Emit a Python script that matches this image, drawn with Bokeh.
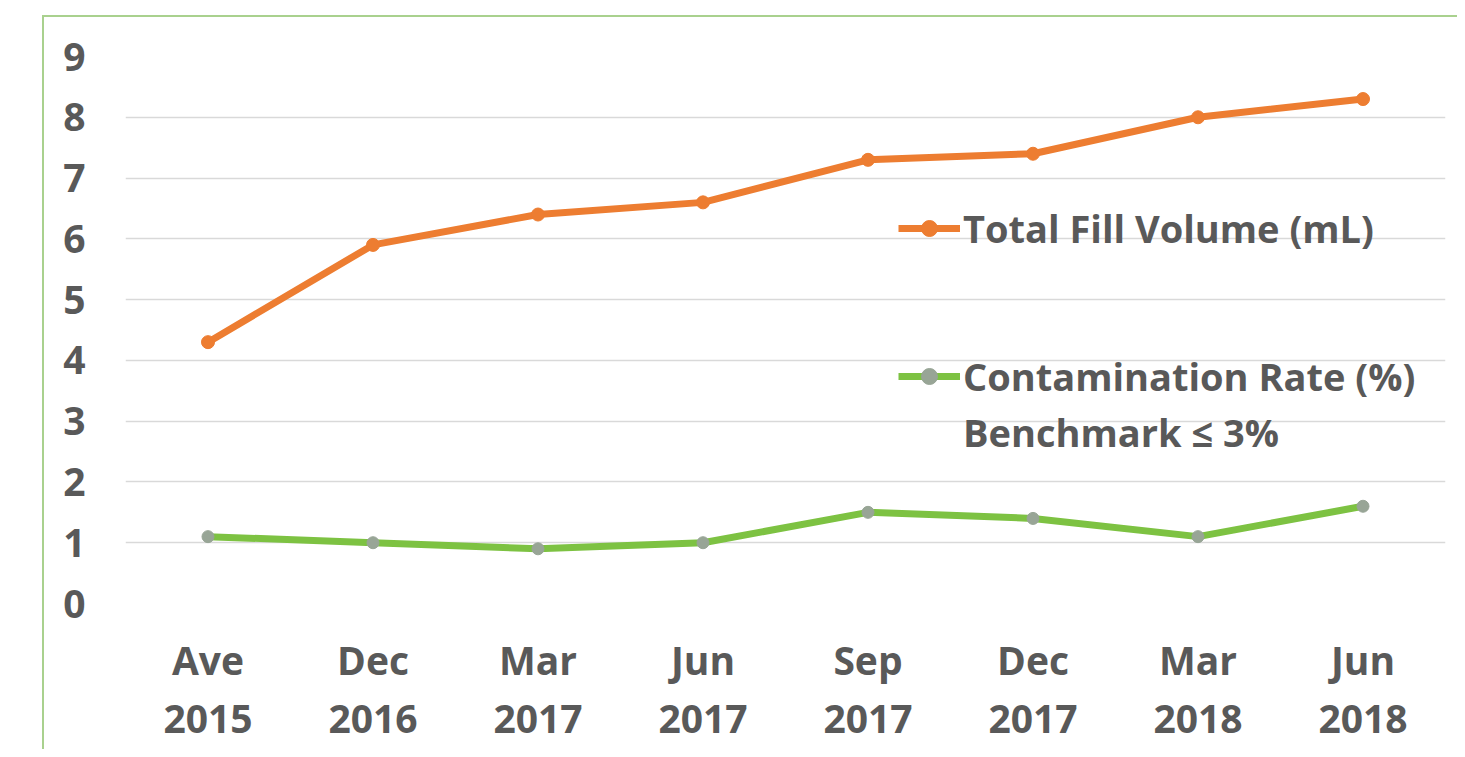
from bokeh.plotting import figure
from bokeh.models import Range1d, FixedTicker, Legend, LegendItem, ColumnDataSource
from bokeh.layouts import column
from bokeh.embed import file_html
from bokeh.resources import INLINE

categories = ["Ave\n2015", "Dec\n2016", "Mar\n2017", "Jun\n2017", "Sep\n2017", "Dec\n2017", "Mar\n2018", "Jun\n2018"]
fill_volume = [4.3, 5.9, 6.4, 6.6, 7.3, 7.4, 8.0, 8.3]
contamination = [1.1, 1.0, 0.9, 1.0, 1.5, 1.4, 1.1, 1.6]
y_ticks = [0, 1, 2, 3, 4, 5, 6, 7, 8, 9]

FONT = "Open Sans"
TXT = "#595959"
ORANGE = "#ED7D31"
GREEN = "#7DC242"
GREEN_MK = "#98A596"

p = figure(x_range=categories, y_range=Range1d(0, 9), width=1413, height=732,
           output_backend="svg", toolbar_location=None,
           min_border_left=81, min_border_right=12, min_border_top=39, min_border_bottom=146)
p.outline_line_color = None
p.background_fill_color = "white"
p.border_fill_color = "white"

p.xgrid.grid_line_color = None
p.ygrid.grid_line_color = "#D9D9D9"
p.ygrid.grid_line_width = 1.5
p.yaxis.ticker = FixedTicker(ticks=y_ticks)

for ax in (p.xaxis[0], p.yaxis[0]):
    ax.axis_line_color = None
    ax.major_tick_line_color = None
    ax.minor_tick_line_color = None
    ax.major_tick_out = 0
    ax.major_tick_in = 0
    ax.major_label_text_font = FONT
    ax.major_label_text_font_style = "bold"
    ax.major_label_text_color = TXT
    ax.major_label_text_font_size = "39px"
p.yaxis.major_label_standoff = 40
p.xaxis.major_label_standoff = 29
p.xaxis.major_label_text_line_height = 1.1

src = ColumnDataSource(dict(x=categories, fv=fill_volume, cr=contamination))

l1 = p.line("x", "fv", source=src, line_color=ORANGE, line_width=7)
s1 = p.scatter("x", "fv", source=src, size=13, fill_color=ORANGE, line_color=ORANGE)
l2 = p.line("x", "cr", source=src, line_color=GREEN, line_width=7)
s2 = p.scatter("x", "cr", source=src, size=12, fill_color=GREEN_MK, line_color=GREEN_MK)
blank = p.line(x=[], y=[], line_alpha=0)

def style_legend(lg):
    lg.border_line_color = None
    lg.background_fill_alpha = 0
    lg.padding = 0
    lg.margin = 0
    lg.glyph_width = 62
    lg.glyph_height = 40
    lg.label_height = 40
    lg.label_standoff = 3
    lg.label_text_font = FONT
    lg.label_text_font_style = "bold"
    lg.label_text_color = TXT
    lg.label_text_font_size = "38px"
    lg.spacing = 4

leg1 = Legend(items=[LegendItem(label="Total Fill Volume (mL)", renderers=[l1, s1])], location=(773, 349))
leg2 = Legend(items=[LegendItem(label="Contamination Rate (%)", renderers=[l2, s2]),
                     LegendItem(label="Benchmark \u2264 3%", renderers=[blank])], location=(773, 145))
style_legend(leg1)
style_legend(leg2)
p.add_layout(leg1)
p.add_layout(leg2)

layout = column(p, margin=(15, 0, 0, 42),
                styles={"border-top": "2px solid #A9D18E", "border-left": "2px solid #A9D18E"})

open("out.html", "w").write(file_html(layout, INLINE))
